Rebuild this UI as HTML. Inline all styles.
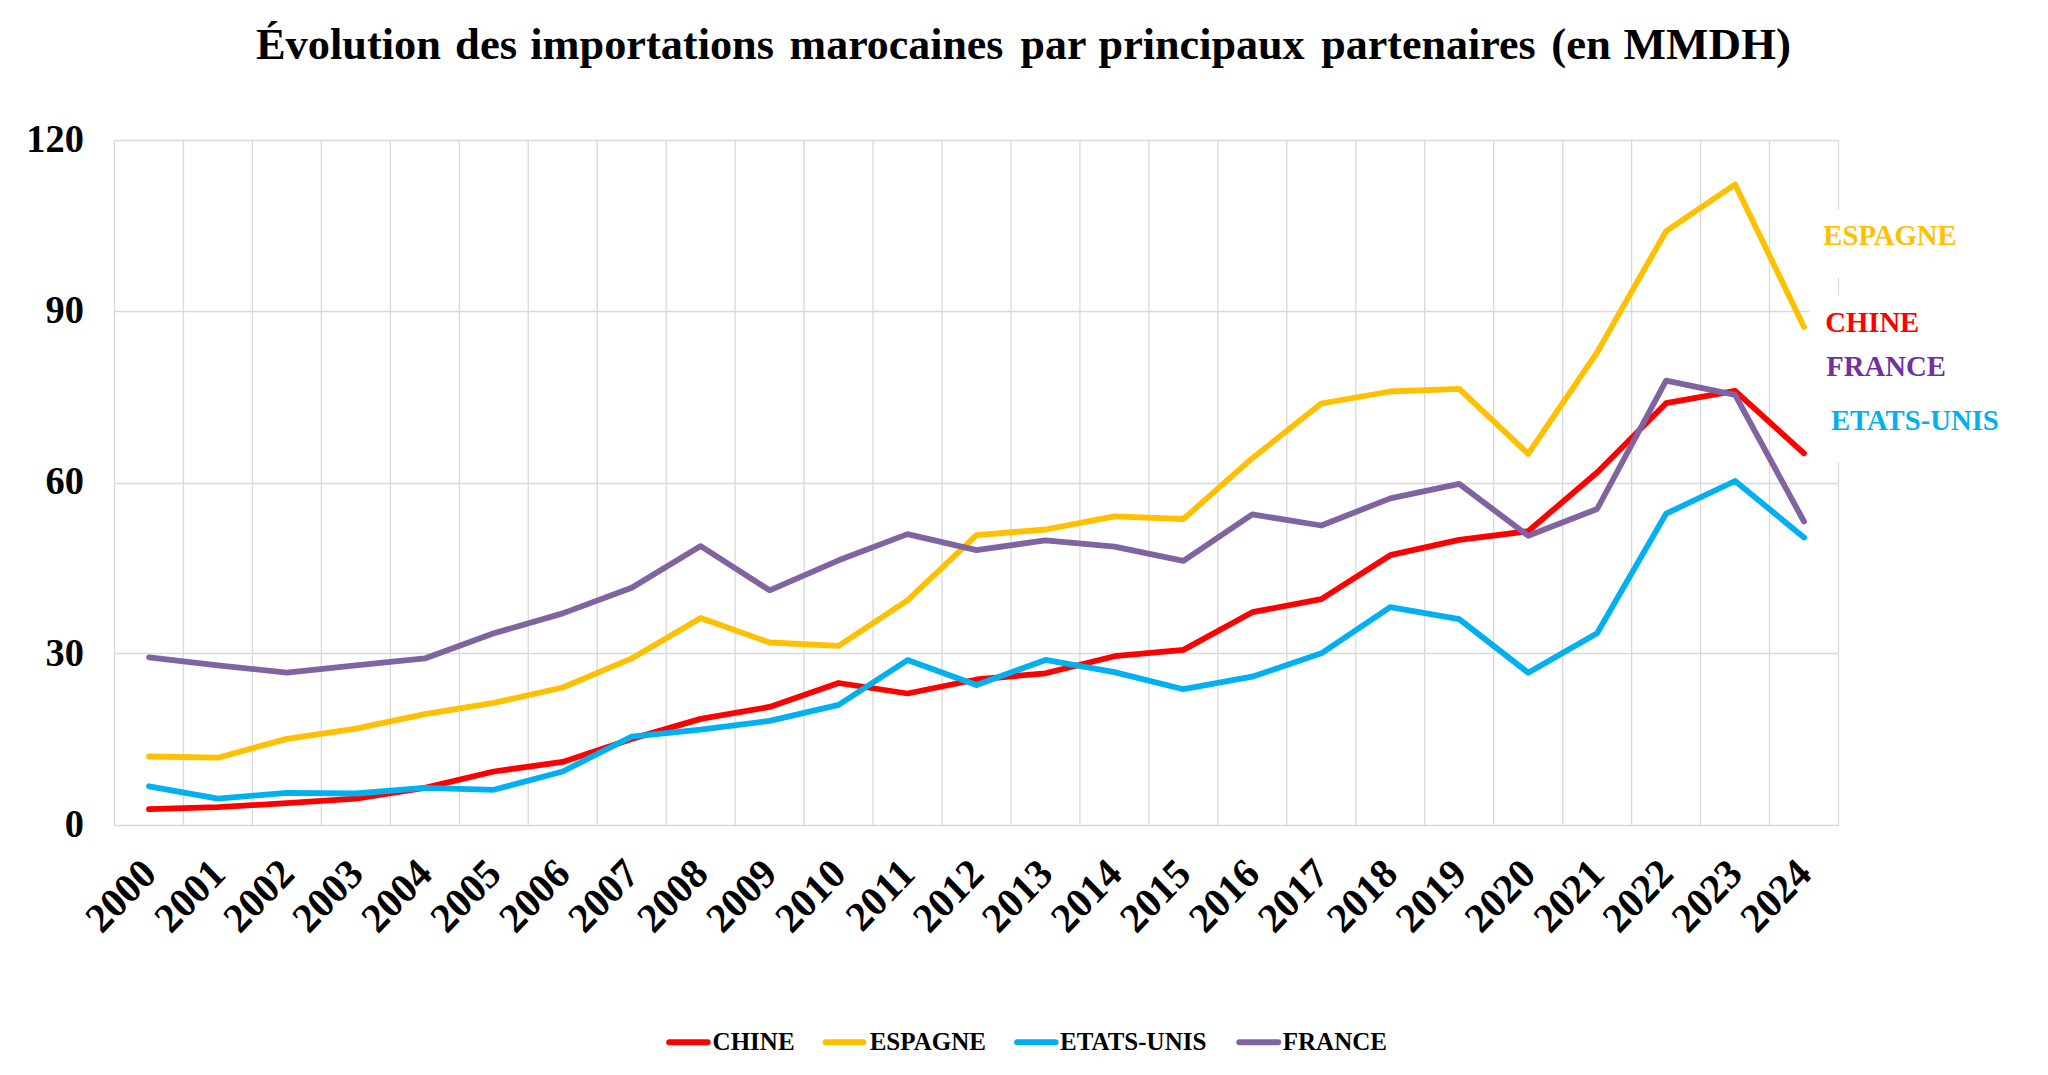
<!DOCTYPE html><html><head><meta charset="utf-8"><title>Importations marocaines</title>
<style>html,body{margin:0;padding:0;background:#fff;overflow:hidden}svg{display:block}text{font-family:'Liberation Serif', 'Times New Roman', serif;font-weight:bold}</style></head><body>
<svg width="2048" height="1075" viewBox="0 0 2048 1075">
<rect width="2048" height="1075" fill="#ffffff"/>
<g font-size="45" fill="#000">
<text transform="translate(256.0,59) scale(0.986,1)">Évolution</text>
<text transform="translate(455.1,59) scale(0.993,1)">des</text>
<text transform="translate(530.25,59) scale(0.985,1)">importations</text>
<text transform="translate(789.6,59) scale(0.976,1)">marocaines</text>
<text transform="translate(1020.5,59) scale(0.976,1)">par</text>
<text transform="translate(1098.6,59) scale(0.981,1)">principaux</text>
<text transform="translate(1321.3,59) scale(0.979,1)">partenaires</text>
<text transform="translate(1551.3,59) scale(0.995,1)">(en</text>
<text transform="translate(1623.6,59) scale(1.0,1)">MMDH)</text>
</g>
<g stroke="#D9D9D9" stroke-width="1.3" fill="none">
<line x1="114.5" y1="140.50" x2="1838.5" y2="140.50"/>
<line x1="114.5" y1="311.50" x2="1838.5" y2="311.50"/>
<line x1="114.5" y1="483.50" x2="1838.5" y2="483.50"/>
<line x1="114.5" y1="653.50" x2="1838.5" y2="653.50"/>
<line x1="114.5" y1="825.50" x2="1838.5" y2="825.50"/>
<line x1="114.50" y1="140.5" x2="114.50" y2="825.5"/>
<line x1="183.46" y1="140.5" x2="183.46" y2="825.5"/>
<line x1="252.42" y1="140.5" x2="252.42" y2="825.5"/>
<line x1="321.38" y1="140.5" x2="321.38" y2="825.5"/>
<line x1="390.34" y1="140.5" x2="390.34" y2="825.5"/>
<line x1="459.30" y1="140.5" x2="459.30" y2="825.5"/>
<line x1="528.26" y1="140.5" x2="528.26" y2="825.5"/>
<line x1="597.22" y1="140.5" x2="597.22" y2="825.5"/>
<line x1="666.18" y1="140.5" x2="666.18" y2="825.5"/>
<line x1="735.14" y1="140.5" x2="735.14" y2="825.5"/>
<line x1="804.10" y1="140.5" x2="804.10" y2="825.5"/>
<line x1="873.06" y1="140.5" x2="873.06" y2="825.5"/>
<line x1="942.02" y1="140.5" x2="942.02" y2="825.5"/>
<line x1="1010.98" y1="140.5" x2="1010.98" y2="825.5"/>
<line x1="1079.94" y1="140.5" x2="1079.94" y2="825.5"/>
<line x1="1148.90" y1="140.5" x2="1148.90" y2="825.5"/>
<line x1="1217.86" y1="140.5" x2="1217.86" y2="825.5"/>
<line x1="1286.82" y1="140.5" x2="1286.82" y2="825.5"/>
<line x1="1355.78" y1="140.5" x2="1355.78" y2="825.5"/>
<line x1="1424.74" y1="140.5" x2="1424.74" y2="825.5"/>
<line x1="1493.70" y1="140.5" x2="1493.70" y2="825.5"/>
<line x1="1562.66" y1="140.5" x2="1562.66" y2="825.5"/>
<line x1="1631.62" y1="140.5" x2="1631.62" y2="825.5"/>
<line x1="1700.58" y1="140.5" x2="1700.58" y2="825.5"/>
<line x1="1769.54" y1="140.5" x2="1769.54" y2="825.5"/>
<line x1="1838.50" y1="140.5" x2="1838.50" y2="825.5"/>
</g>
<g fill="none" stroke-width="5.8" stroke-linejoin="round" stroke-linecap="round">
<polyline points="149.0,809.1 217.9,807.2 286.9,803.1 355.9,798.6 424.8,787.9 493.8,771.5 562.7,761.9 631.7,738.9 700.7,718.9 769.6,706.9 838.6,683.0 907.5,693.5 976.5,679.5 1045.5,673.3 1114.4,656.2 1183.4,649.9 1252.3,612.2 1321.3,599.1 1390.3,555.2 1459.2,539.8 1528.2,531.2 1597.1,472.5 1666.1,403.2 1735.1,390.9 1804.0,453.4" stroke="#FF0000"/>
<polyline points="149.0,756.5 217.9,757.7 286.9,738.9 355.9,728.6 424.8,714.1 493.8,702.9 562.7,687.5 631.7,658.4 700.7,617.9 769.6,642.5 838.6,645.9 907.5,600.3 976.5,535.2 1045.5,529.5 1114.4,516.4 1183.4,519.0 1252.3,458.2 1321.3,403.5 1390.3,391.5 1459.2,388.9 1528.2,453.9 1597.1,352.4 1666.1,231.2 1735.1,184.4 1804.0,327.0" stroke="#FFC000"/>
<polyline points="149.0,786.3 217.9,798.6 286.9,792.9 355.9,793.5 424.8,787.9 493.8,789.8 562.7,771.5 631.7,736.6 700.7,729.7 769.6,720.9 838.6,704.9 907.5,660.1 976.5,685.0 1045.5,659.9 1114.4,672.1 1183.4,689.2 1252.3,676.7 1321.3,653.3 1390.3,607.1 1459.2,619.1 1528.2,672.7 1597.1,633.3 1666.1,513.6 1735.1,481.0 1804.0,537.5" stroke="#00B0F0"/>
<polyline points="149.0,657.3 217.9,665.3 286.9,672.7 355.9,665.3 424.8,658.4 493.8,633.3 562.7,613.4 631.7,587.7 700.7,546.1 769.6,590.3 838.6,560.3 907.5,534.1 976.5,550.1 1045.5,540.4 1114.4,546.6 1183.4,560.9 1252.3,514.4 1321.3,525.5 1390.3,498.4 1459.2,483.9 1528.2,535.8 1597.1,509.0 1666.1,380.6 1735.1,394.9 1804.0,521.5" stroke="#8064A2"/>
</g>
<g font-size="38.4" fill="#000" text-anchor="end">
<text transform="translate(83.9,151.9) scale(1,1.025)">120</text>
<text transform="translate(83.9,323.2) scale(1,1.025)">90</text>
<text transform="translate(83.9,494.4) scale(1,1.025)">60</text>
<text transform="translate(83.9,665.7) scale(1,1.025)">30</text>
<text transform="translate(83.9,836.9) scale(1,1.025)">0</text>
</g>
<g font-size="40" fill="#000" text-anchor="end">
<text transform="translate(158.4,876) scale(1,1.04) rotate(-45)">2000</text>
<text transform="translate(227.3,876) scale(1,1.04) rotate(-45)">2001</text>
<text transform="translate(296.3,876) scale(1,1.04) rotate(-45)">2002</text>
<text transform="translate(365.3,876) scale(1,1.04) rotate(-45)">2003</text>
<text transform="translate(434.2,876) scale(1,1.04) rotate(-45)">2004</text>
<text transform="translate(503.2,876) scale(1,1.04) rotate(-45)">2005</text>
<text transform="translate(572.1,876) scale(1,1.04) rotate(-45)">2006</text>
<text transform="translate(641.1,876) scale(1,1.04) rotate(-45)">2007</text>
<text transform="translate(710.1,876) scale(1,1.04) rotate(-45)">2008</text>
<text transform="translate(779.0,876) scale(1,1.04) rotate(-45)">2009</text>
<text transform="translate(848.0,876) scale(1,1.04) rotate(-45)">2010</text>
<text transform="translate(916.9,876) scale(1,1.04) rotate(-45)">2011</text>
<text transform="translate(985.9,876) scale(1,1.04) rotate(-45)">2012</text>
<text transform="translate(1054.9,876) scale(1,1.04) rotate(-45)">2013</text>
<text transform="translate(1123.8,876) scale(1,1.04) rotate(-45)">2014</text>
<text transform="translate(1192.8,876) scale(1,1.04) rotate(-45)">2015</text>
<text transform="translate(1261.7,876) scale(1,1.04) rotate(-45)">2016</text>
<text transform="translate(1330.7,876) scale(1,1.04) rotate(-45)">2017</text>
<text transform="translate(1399.7,876) scale(1,1.04) rotate(-45)">2018</text>
<text transform="translate(1468.6,876) scale(1,1.04) rotate(-45)">2019</text>
<text transform="translate(1537.6,876) scale(1,1.04) rotate(-45)">2020</text>
<text transform="translate(1606.5,876) scale(1,1.04) rotate(-45)">2021</text>
<text transform="translate(1675.5,876) scale(1,1.04) rotate(-45)">2022</text>
<text transform="translate(1744.5,876) scale(1,1.04) rotate(-45)">2023</text>
<text transform="translate(1813.4,876) scale(1,1.04) rotate(-45)">2024</text>
</g>
<rect x="1815" y="209.6" width="160" height="68" fill="#fff"/>
<rect x="1809.4" y="295.4" width="200" height="166.8" fill="#fff"/>
<g font-size="28.7">
<text transform="translate(1823.3,245.3) scale(1,1.055)" fill="#FFC000">ESPAGNE</text>
<text transform="translate(1825.2,331.7) scale(1,1.055)" fill="#FF0000">CHINE</text>
<text transform="translate(1826.3,376.0) scale(1,1.055)" fill="#7030A0">FRANCE</text>
<text transform="translate(1830.9,430.4) scale(1,1.055)" fill="#00B0F0">ETATS-UNIS</text>
</g>
<g stroke-width="6" stroke-linecap="round">
<line x1="669.2" y1="1042.2" x2="707.7" y2="1042.2" stroke="#FF0000"/>
<line x1="825.6" y1="1042.2" x2="863.2" y2="1042.2" stroke="#FFC000"/>
<line x1="1017.1" y1="1042.2" x2="1055.6" y2="1042.2" stroke="#00B0F0"/>
<line x1="1239.3" y1="1042.2" x2="1278.2" y2="1042.2" stroke="#8064A2"/>
</g>
<g font-size="25" fill="#000">
<text x="712.6" y="1050.2">CHINE</text>
<text x="869.7" y="1050.2">ESPAGNE</text>
<text x="1060.0" y="1050.2">ETATS-UNIS</text>
<text x="1282.8" y="1050.2">FRANCE</text>
</g>
</svg></body></html>
